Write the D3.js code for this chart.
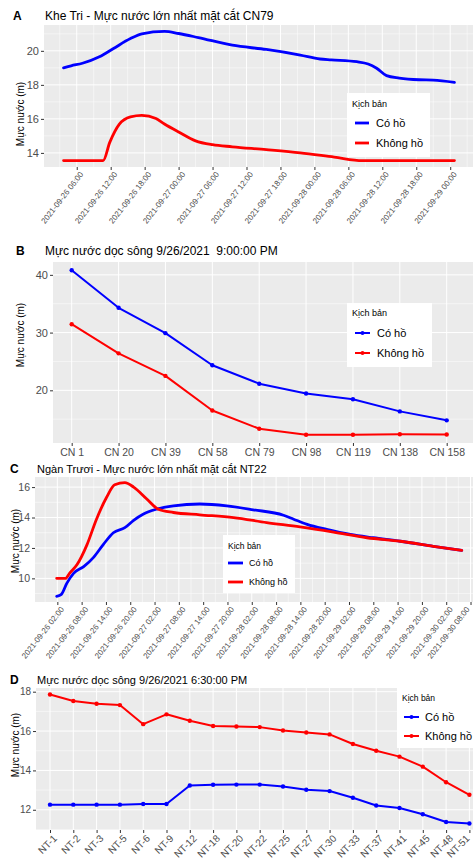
<!DOCTYPE html>
<html>
<head>
<meta charset="utf-8">
<script src="https://cdn.jsdelivr.net/npm/d3@7"></script>
<style>
  body { margin: 0; background: #fff; }
  text { font-family: Arial, "Liberation Sans", sans-serif; }
</style>
</head>
<body>
<svg id="chart" width="473" height="861"></svg>
<script>
// ---- data ----
var seriesNames = ["Có hồ", "Không hồ"];
var seriesColors = ["#0000FF", "#FF0000"];
var legendTitle = "Kịch bản";
var yAxisTitle = "Mực nước (m)";

// A: Khe Tri, CN79 (time series)
var timesA_co = ["2021-09-26 03:40", "2021-09-26 05:00", "2021-09-26 07:00", "2021-09-26 10:00", "2021-09-26 12:30",
  "2021-09-26 15:30", "2021-09-26 17:30", "2021-09-26 21:30", "2021-09-27 00:00", "2021-09-27 03:30",
  "2021-09-27 09:30", "2021-09-27 15:30", "2021-09-27 21:30", "2021-09-28 01:00", "2021-09-28 03:00",
  "2021-09-28 07:30", "2021-09-28 09:30", "2021-09-28 11:00", "2021-09-28 12:45", "2021-09-28 15:00",
  "2021-09-28 18:30", "2021-09-28 21:00", "2021-09-29 00:45"];
var levelA_co = [19.00, 19.12, 19.27, 19.65, 20.14, 20.72, 21.00, 21.14, 21.02, 20.78,
  20.33, 20.08, 19.75, 19.52, 19.47, 19.36, 19.23, 18.98, 18.54, 18.40, 18.30, 18.28, 18.15];
var timesA_khong = ["2021-09-26 03:40", "2021-09-26 10:40", "2021-09-26 11:50", "2021-09-26 13:30", "2021-09-26 15:30",
  "2021-09-26 17:30", "2021-09-26 20:00", "2021-09-26 21:30", "2021-09-27 00:00", "2021-09-27 03:00",
  "2021-09-27 06:00", "2021-09-27 09:30", "2021-09-27 15:30", "2021-09-27 21:30", "2021-09-28 03:30",
  "2021-09-28 08:30", "2021-09-29 00:45"];
var levelA_khong = [13.55, 13.55, 14.62, 15.68, 16.12, 16.21, 16.02, 15.70, 15.23, 14.71,
  14.48, 14.36, 14.19, 14.00, 13.75, 13.55, 13.55];
var ticksA = ["2021-09-26 06:00", "2021-09-26 12:00", "2021-09-26 18:00", "2021-09-27 00:00", "2021-09-27 06:00",
  "2021-09-27 12:00", "2021-09-27 18:00", "2021-09-28 00:00", "2021-09-28 06:00", "2021-09-28 12:00",
  "2021-09-28 18:00", "2021-09-29 00:00"];
var yTicksA = [14, 16, 18, 20];

// B: along the river 9/26/2021 9:00 PM
var sectionsB = ["CN 1", "CN 20", "CN 39", "CN 58", "CN 79", "CN 98", "CN 119", "CN 138", "CN 158"];
var levelB_co = [40.8, 34.3, 29.9, 24.35, 21.15, 19.45, 18.45, 16.35, 14.8];
var levelB_khong = [31.45, 26.4, 22.5, 16.5, 13.35, 12.3, 12.3, 12.4, 12.35];
var yTicksB = [20, 30, 40];

// C: Ngan Truoi, NT22 (time series)
var timesC_co = ["2021-09-26 01:50", "2021-09-26 03:00", "2021-09-26 04:20", "2021-09-26 06:00", "2021-09-26 08:30",
  "2021-09-26 11:00", "2021-09-26 13:20", "2021-09-26 15:50", "2021-09-26 18:40", "2021-09-26 20:50",
  "2021-09-26 23:10", "2021-09-27 02:30", "2021-09-27 06:40", "2021-09-27 13:10", "2021-09-27 19:50",
  "2021-09-28 02:20", "2021-09-28 09:50", "2021-09-28 12:20", "2021-09-28 15:40", "2021-09-28 20:30",
  "2021-09-29 02:20", "2021-09-29 08:00", "2021-09-29 14:40", "2021-09-29 22:50", "2021-09-30 05:50"];
var levelC_co = [8.82, 8.95, 9.67, 10.33, 10.77, 11.40, 12.22, 13.00, 13.33, 13.82,
  14.22, 14.55, 14.77, 14.89, 14.77, 14.51, 14.15, 13.89, 13.55, 13.22,
  12.89, 12.67, 12.44, 12.11, 11.84];
var timesC_khong = ["2021-09-26 01:50", "2021-09-26 04:00", "2021-09-26 05:00", "2021-09-26 06:50", "2021-09-26 09:20",
  "2021-09-26 11:40", "2021-09-26 14:10", "2021-09-26 16:10", "2021-09-26 18:40", "2021-09-26 20:50",
  "2021-09-27 00:05", "2021-09-27 02:55", "2021-09-27 06:40", "2021-09-27 13:10", "2021-09-27 21:30",
  "2021-09-28 05:40", "2021-09-28 13:55", "2021-09-28 22:10", "2021-09-29 06:25", "2021-09-29 14:40",
  "2021-09-29 22:50", "2021-09-30 05:50"];
var levelC_khong = [10.00, 10.00, 10.33, 10.89, 12.22, 13.89, 15.33, 16.15, 16.29, 16.00,
  15.22, 14.55, 14.33, 14.18, 14.00, 13.67, 13.38, 13.04, 12.67, 12.44, 12.11, 11.84];
var ticksC = ["2021-09-26 02:00", "2021-09-26 08:00", "2021-09-26 14:00", "2021-09-26 20:00", "2021-09-27 02:00",
  "2021-09-27 08:00", "2021-09-27 14:00", "2021-09-27 20:00", "2021-09-28 02:00", "2021-09-28 08:00",
  "2021-09-28 14:00", "2021-09-28 20:00", "2021-09-29 02:00", "2021-09-29 08:00", "2021-09-29 14:00",
  "2021-09-29 20:00", "2021-09-30 02:00", "2021-09-30 08:00"];
var yTicksC = [10, 12, 14, 16];

// D: along the river 9/26/2021 6:30 PM
var sectionsD = ["NT-1", "NT-2", "NT-3", "NT-5", "NT-6", "NT-9", "NT-12", "NT-18", "NT-20", "NT-22",
  "NT-25", "NT-27", "NT-30", "NT-33", "NT-37", "NT-41", "NT-45", "NT-48", "NT-51"];
var levelD_co = [12.26, 12.26, 12.26, 12.26, 12.29, 12.29, 13.23, 13.27, 13.28, 13.28,
  13.18, 13.02, 12.95, 12.61, 12.22, 12.09, 11.77, 11.38, 11.30];
var levelD_khong = [17.86, 17.53, 17.39, 17.32, 16.35, 16.85, 16.52, 16.26, 16.23, 16.20,
  16.03, 15.93, 15.83, 15.34, 15.00, 14.70, 14.19, 13.40, 12.76];
var yTicksD = [12, 14, 16, 18];

// ---- helpers ----
var W = 473, H = 861;
var parseTime = d3.timeParse("%Y-%m-%d %H:%M");
var fmtTime = d3.timeFormat("%Y-%m-%d %H:%M");
var svg = d3.select("#chart");
svg.append("rect").attr("width", W).attr("height", H).attr("fill", "#fff");

function expand(lo, hi) {
  var pad = (hi - lo) * 0.05;
  return [lo - pad, hi + pad];
}

function midpoints(arr) {
  var out = [];
  for (var i = 0; i < arr.length - 1; i++) out.push((arr[i] + arr[i + 1]) / 2);
  return out;
}

// grey ggplot panel with white grid
function drawPanel(box, x, y, xMajor, xMinor, yMajor, yMinor) {
  var g = svg.append("g");
  g.append("rect")
    .attr("x", box.x0).attr("y", box.y0)
    .attr("width", box.x1 - box.x0).attr("height", box.y1 - box.y0)
    .attr("fill", "#EBEBEB");
  var yMinorPos = yMinor.map(y).filter(v => v > box.y0 && v < box.y1);
  var xMinorPos = xMinor.map(x).filter(v => v > box.x0 && v < box.x1);
  g.selectAll(".ymin").data(yMinorPos).enter().append("line")
    .attr("x1", box.x0).attr("x2", box.x1).attr("y1", d => d).attr("y2", d => d)
    .attr("stroke", "#fff").attr("stroke-width", 0.5);
  g.selectAll(".xmin").data(xMinorPos).enter().append("line")
    .attr("y1", box.y0).attr("y2", box.y1).attr("x1", d => d).attr("x2", d => d)
    .attr("stroke", "#fff").attr("stroke-width", 0.5);
  g.selectAll(".ymaj").data(yMajor.map(y)).enter().append("line")
    .attr("x1", box.x0).attr("x2", box.x1).attr("y1", d => d).attr("y2", d => d)
    .attr("stroke", "#fff").attr("stroke-width", 1);
  g.selectAll(".xmaj").data(xMajor.map(x)).enter().append("line")
    .attr("y1", box.y0).attr("y2", box.y1).attr("x1", d => d).attr("x2", d => d)
    .attr("stroke", "#fff").attr("stroke-width", 1);
  return g;
}

function drawYAxis(box, y, ticks, fontSize) {
  var axis = d3.axisLeft(y).tickValues(ticks).tickSize(3).tickPadding(2);
  var g = svg.append("g")
    .attr("transform", `translate(${box.x0}, 0)`)
    .call(axis);
  g.select(".domain").remove();
  g.selectAll(".tick line").attr("stroke", "#333");
  g.selectAll(".tick text").attr("fill", "#4D4D4D")
    .style("font-size", fontSize + "px").attr("font-family", null);
}

// angle = 0 for flat labels, otherwise rotated with the top-right corner under the tick
function drawXAxis(box, x, ticks, labels, fontSize, angle) {
  var axis = d3.axisBottom(x).tickValues(ticks).tickSize(3)
    .tickFormat((d, i) => labels[i]);
  var g = svg.append("g")
    .attr("transform", `translate(0, ${box.y1})`)
    .call(axis);
  g.select(".domain").remove();
  g.selectAll(".tick line").attr("stroke", "#333");
  var t = g.selectAll(".tick text").attr("fill", "#4D4D4D")
    .style("font-size", fontSize + "px").attr("font-family", null);
  if (angle) {
    t.attr("text-anchor", "end").attr("dy", "0.72em").attr("y", 0).attr("x", 0)
      .attr("transform", `translate(2, 4) rotate(-${angle})`);
    // keep the last labels inside the picture
    t.each(function() {
      var r = this.getBoundingClientRect();
      if (r.right > W - 1) {
        var shift = 2 - (r.right - (W - 1));
        d3.select(this).attr("transform", `translate(${shift}, 4) rotate(-${angle})`);
      }
    });
  }
}

function drawTitle(letter, title, lx, tx, y, size) {
  svg.append("text").attr("x", lx).attr("y", y)
    .attr("font-weight", "bold").style("font-size", "12px").text(letter);
  svg.append("text").attr("x", tx).attr("y", y)
    .style("font-size", size + "px").style("white-space", "pre").text(title);
}

function drawYTitle(cx, cy) {
  svg.append("text")
    .attr("transform", `translate(${cx}, ${cy}) rotate(-90)`)
    .attr("text-anchor", "middle").attr("dy", "0.35em")
    .style("font-size", "10px").text(yAxisTitle);
}

function drawLegend(lg) {
  var g = svg.append("g");
  g.append("rect").attr("x", lg.x0).attr("y", lg.y0)
    .attr("width", lg.x1 - lg.x0).attr("height", lg.y1 - lg.y0).attr("fill", "#fff");
  g.append("text").attr("x", lg.tx).attr("y", lg.titleY).attr("dy", "0.35em")
    .style("font-size", lg.titleSize + "px").text(legendTitle);
  seriesNames.forEach(function(name, i) {
    var yy = lg.itemY[i];
    g.append("line").attr("x1", lg.k0).attr("x2", lg.k1).attr("y1", yy).attr("y2", yy)
      .attr("stroke", seriesColors[i]).attr("stroke-width", lg.lw);
    if (lg.dot) {
      g.append("circle").attr("cx", (lg.k0 + lg.k1) / 2).attr("cy", yy).attr("r", lg.dot)
        .attr("fill", seriesColors[i]);
    }
    g.append("text").attr("x", lg.textX).attr("y", yy).attr("dy", "0.35em")
      .style("font-size", lg.itemSize + "px").text(name);
  });
}

function drawSeries(x, y, xs, ys, color, lw, curve, dot) {
  var pts = xs.map((d, i) => [x(d), y(ys[i])]);
  var line = d3.line().curve(curve);
  svg.append("path").attr("d", line(pts))
    .attr("fill", "none").attr("stroke", color).attr("stroke-width", lw)
    .attr("stroke-linejoin", "round").attr("stroke-linecap", "round");
  if (dot) {
    svg.selectAll(null).data(pts).enter().append("circle")
      .attr("cx", d => d[0]).attr("cy", d => d[1]).attr("r", dot).attr("fill", color);
  }
}

// ---- Panel A ----
(function() {
  var box = {x0: 44, x1: 473, y0: 25, y1: 167};
  var tCo = timesA_co.map(parseTime), tKh = timesA_khong.map(parseTime);
  var allT = tCo.concat(tKh).map(Number);
  var x = d3.scaleTime().domain(expand(d3.min(allT), d3.max(allT))).range([44, 474]);
  var allV = levelA_co.concat(levelA_khong);
  var y = d3.scaleLinear().domain(expand(d3.min(allV), d3.max(allV))).range([box.y1, box.y0]);
  var tk = ticksA.map(parseTime);
  var tkMinor = midpoints(tk.map(Number)).concat([+tk[0] - 3 * 3600e3, +tk[tk.length - 1] + 3 * 3600e3]);
  drawPanel(box, x, y, tk, tkMinor, yTicksA, [13, 15, 17, 19, 21]);
  drawSeries(x, y, tCo, levelA_co, seriesColors[0], 2.8, d3.curveMonotoneX);
  drawSeries(x, y, tKh, levelA_khong, seriesColors[1], 2.8, d3.curveMonotoneX);
  drawYAxis(box, y, yTicksA, 11);
  drawXAxis(box, x, tk, tk.map(fmtTime), 8, 52);
  drawTitle("A", "Khe Tri - Mực nước lớn nhất mặt cắt CN79", 13, 45, 20, 12);
  drawYTitle(20, 114);
  drawLegend({x0: 347, x1: 430, y0: 93, y1: 157, tx: 352, titleY: 104, titleSize: 9,
    itemY: [123, 143], k0: 355, k1: 369, lw: 2.8, textX: 376, itemSize: 11});
})();

// ---- Panel B ----
(function() {
  var box = {x0: 53, x1: 473, y0: 262, y1: 443};
  var x = d3.scalePoint().domain(sectionsB).range([71.7, 446.7]);
  var allV = levelB_co.concat(levelB_khong);
  var y = d3.scaleLinear().domain(expand(d3.min(allV), d3.max(allV))).range([box.y1, box.y0]);
  drawPanel(box, x, y, sectionsB, [], yTicksB, [15, 25, 35]);
  drawSeries(x, y, sectionsB, levelB_co, seriesColors[0], 2, d3.curveLinear, 2.2);
  drawSeries(x, y, sectionsB, levelB_khong, seriesColors[1], 2, d3.curveLinear, 2.2);
  drawYAxis(box, y, yTicksB, 11);
  drawXAxis(box, x, sectionsB, sectionsB, 10.5, 0);
  drawTitle("B", "Mực nước dọc sông 9/26/2021  9:00:00 PM", 16, 45, 255, 12);
  drawYTitle(20, 335);
  drawLegend({x0: 347, x1: 432, y0: 303, y1: 367, tx: 352, titleY: 313, titleSize: 9,
    itemY: [333, 353], k0: 355, k1: 370, lw: 2, dot: 2, textX: 377, itemSize: 11});
})();

// ---- Panel C ----
(function() {
  var box = {x0: 35, x1: 473, y0: 477, y1: 602};
  var tCo = timesC_co.map(parseTime), tKh = timesC_khong.map(parseTime);
  var allT = tCo.concat(tKh).map(Number);
  var x = d3.scaleTime().domain(expand(d3.min(allT), d3.max(allT))).range([36.4, 482]);
  var allV = levelC_co.concat(levelC_khong);
  var y = d3.scaleLinear().domain(expand(d3.min(allV), d3.max(allV))).range([box.y1, box.y0]);
  var tk = ticksC.map(parseTime);
  var tkMinor = midpoints(tk.map(Number)).concat([+tk[0] - 3 * 3600e3]);
  drawPanel(box, x, y, tk, tkMinor, yTicksC, [9, 11, 13, 15]);
  drawSeries(x, y, tCo, levelC_co, seriesColors[0], 2.8, d3.curveMonotoneX);
  drawSeries(x, y, tKh, levelC_khong, seriesColors[1], 2.8, d3.curveMonotoneX);
  drawYAxis(box, y, yTicksC, 10.5);
  drawXAxis(box, x, tk, tk.map(fmtTime), 8, 52);
  drawTitle("C", "Ngàn Trươi - Mực nước lớn nhất mặt cắt NT22", 10, 37, 473, 11);
  drawYTitle(15, 541);
  drawLegend({x0: 223, x1: 295, y0: 535, y1: 593, tx: 228, titleY: 546, titleSize: 8.5,
    itemY: [563, 582], k0: 228, k1: 243, lw: 2.8, textX: 249, itemSize: 9});
})();

// ---- Panel D ----
(function() {
  var box = {x0: 36, x1: 473, y0: 688, y1: 830};
  var x = d3.scalePoint().domain(sectionsD).range([50, 469.4]);
  var allV = levelD_co.concat(levelD_khong);
  var y = d3.scaleLinear().domain(expand(d3.min(allV), d3.max(allV))).range([box.y1, box.y0]);
  drawPanel(box, x, y, sectionsD, [], yTicksD, [11, 13, 15, 17]);
  drawSeries(x, y, sectionsD, levelD_co, seriesColors[0], 2, d3.curveLinear, 2.2);
  drawSeries(x, y, sectionsD, levelD_khong, seriesColors[1], 2, d3.curveLinear, 2.2);
  drawYAxis(box, y, yTicksD, 10);
  drawXAxis(box, x, sectionsD, sectionsD, 10, 45);
  drawTitle("D", "Mực nước dọc sông 9/26/2021 6:30:00 PM", 10, 37, 684, 11);
  drawYTitle(15, 745);
  drawLegend({x0: 397, x1: 473, y0: 688, y1: 748, tx: 402, titleY: 698, titleSize: 8.5,
    itemY: [717, 736], k0: 404, k1: 419, lw: 2, dot: 2, textX: 425, itemSize: 11});
})();
</script>
</body>
</html>
